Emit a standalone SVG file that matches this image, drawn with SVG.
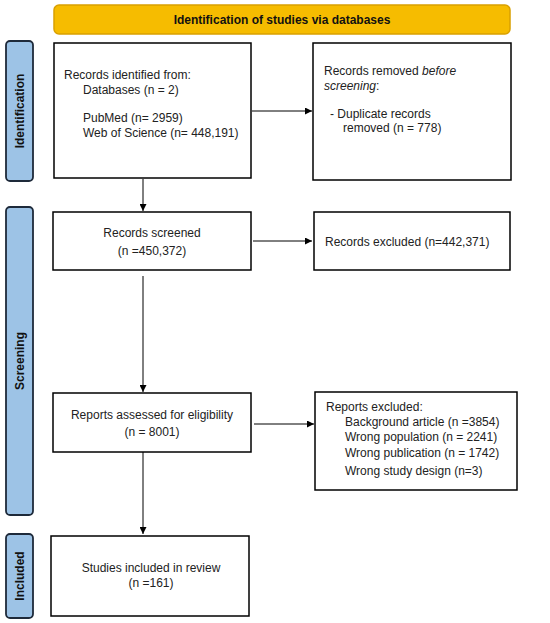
<svg xmlns="http://www.w3.org/2000/svg" width="550" height="623" viewBox="0 0 550 623">
<style>
.box{fill:#fff;stroke:#000;stroke-width:1.5}
.side{fill:#9DC3E6;stroke:#1e2a3a;stroke-width:1.8}
.t{font-family:"Liberation Sans",Arial,sans-serif;font-size:12px;fill:#222}
.b{font-family:"Liberation Sans",Arial,sans-serif;font-size:12px;font-weight:bold;fill:#111}
.c{text-anchor:middle}
.ln{stroke:#000;stroke-width:1;fill:none;marker-end:url(#ah)}
</style>
<defs>
<marker id="ah" viewBox="0 0 10 10" refX="10" refY="5" markerWidth="7" markerHeight="7" markerUnits="userSpaceOnUse" orient="auto">
<path d="M0,0 L10,5 L0,10 z" fill="#000"/>
</marker>
</defs>
<rect width="550" height="623" fill="#fff"/>
<g id="banner">
<rect x="54" y="5" width="456" height="29" rx="5" fill="#F6BC00" stroke="#D9A000" stroke-width="1.5"/>
<text class="b c" x="282" y="24">Identification of studies via databases</text>
</g>
<g id="lbl-identification">
<rect class="side" x="6" y="41" width="27" height="140" rx="4"/>
<text class="b c" transform="translate(24,111) rotate(-90)">Identification</text>
</g>
<g id="lbl-screening">
<rect class="side" x="6" y="207" width="27" height="308" rx="4"/>
<text class="b c" transform="translate(24,361) rotate(-90)">Screening</text>
</g>
<g id="lbl-included">
<rect class="side" x="6" y="534" width="27" height="84" rx="4"/>
<text class="b c" transform="translate(24,576) rotate(-90)">Included</text>
</g>
<g id="n-identified">
<rect class="box" x="54" y="43" width="197" height="135"/>
<text class="t" x="64" y="79">Records identified from:</text>
<text class="t" x="83" y="94">Databases (n = 2)</text>
<text class="t" x="83" y="122">PubMed (n= 2959)</text>
<text class="t" x="83" y="137">Web of Science (n= 448,191)</text>
</g>
<g id="n-removed">
<rect class="box" x="313" y="43" width="198" height="137"/>
<text class="t" x="324" y="75">Records removed <tspan font-style="italic">before</tspan></text>
<text class="t" x="324" y="90"><tspan font-style="italic">screening</tspan>:</text>
<text class="t" x="330" y="118">- Duplicate records</text>
<text class="t" x="343" y="132">removed (n = 778)</text>
</g>
<g id="n-screened">
<rect class="box" x="53" y="212" width="198" height="58"/>
<text class="t c" x="152" y="237">Records screened</text>
<text class="t c" x="152" y="255">(n =450,372)</text>
</g>
<g id="n-excluded">
<rect class="box" x="314" y="212" width="196" height="58"/>
<text class="t" x="325" y="246">Records excluded (n=442,371)</text>
</g>
<g id="n-assessed">
<rect class="box" x="53" y="393" width="198" height="59"/>
<text class="t c" x="152" y="419">Reports assessed for eligibility</text>
<text class="t c" x="152" y="436">(n = 8001)</text>
</g>
<g id="n-reports-excluded">
<rect class="box" x="315" y="392" width="202" height="98"/>
<text class="t" x="326" y="411">Reports excluded:</text>
<text class="t" x="345" y="426">Background article (n =3854)</text>
<text class="t" x="345" y="441">Wrong population (n = 2241)</text>
<text class="t" x="345" y="457">Wrong publication (n = 1742)</text>
<text class="t" x="345" y="475">Wrong study design (n=3)</text>
</g>
<g id="n-included">
<rect class="box" x="51" y="536" width="198" height="80"/>
<text class="t c" x="151" y="572">Studies included in review</text>
<text class="t c" x="151" y="587">(n =161)</text>
</g>
<g id="connectors">
<line class="ln" x1="252" y1="111" x2="312" y2="111"/>
<line class="ln" x1="143" y1="179" x2="143" y2="211"/>
<line class="ln" x1="253" y1="241" x2="312" y2="241"/>
<line class="ln" x1="143" y1="276" x2="143" y2="392"/>
<line class="ln" x1="254" y1="424" x2="314" y2="424"/>
<line class="ln" x1="143" y1="452" x2="143" y2="534"/>
</g>
</svg>
